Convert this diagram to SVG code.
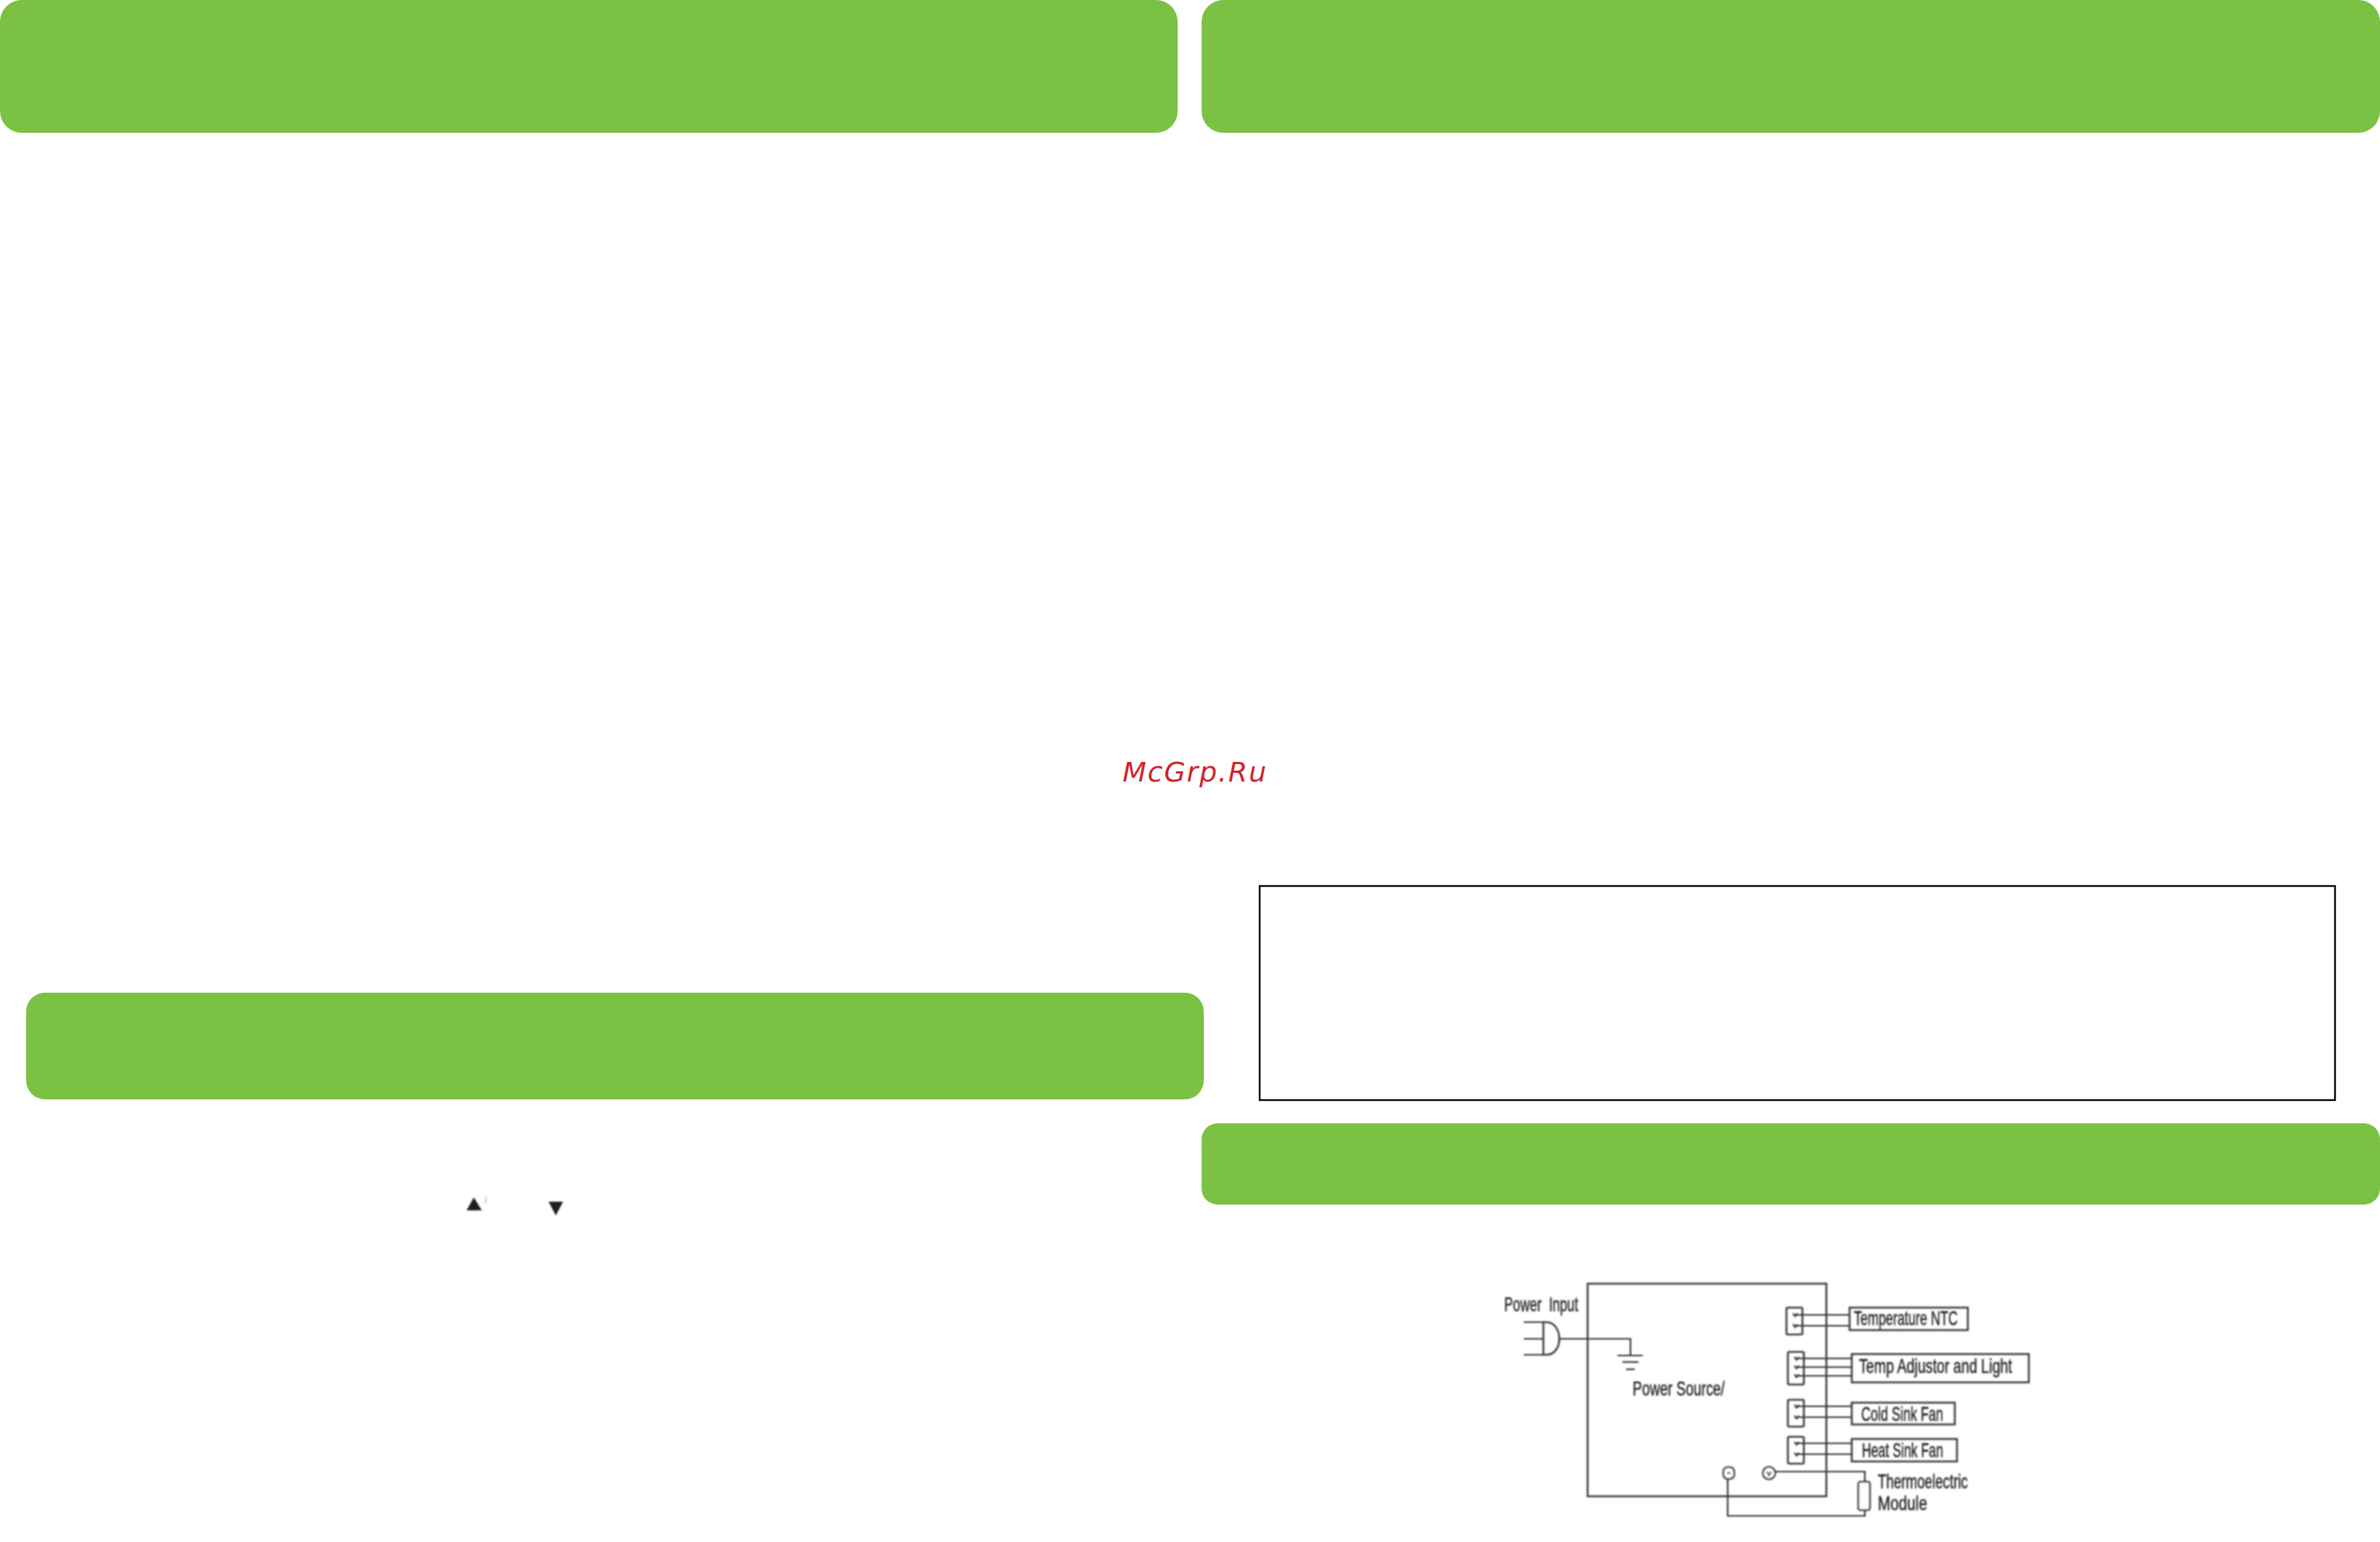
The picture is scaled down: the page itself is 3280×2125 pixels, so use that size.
<svg xmlns="http://www.w3.org/2000/svg" width="3280" height="2125" viewBox="0 0 3280 2125">
<style>
.banner{fill:#7bc143}
.w{fill:none;stroke:#333;stroke-width:2.2}
.b{fill:#fff;stroke:#3a3a3a;stroke-width:2.6}
.p{fill:none;stroke:#3a3a3a;stroke-width:2.6}
.t{font-family:"Liberation Sans",Arial,sans-serif;font-size:28px;fill:#222;stroke:#222;stroke-width:0.5}
.tri{fill:#231f20}
</style>
<defs>
<filter id="soft" x="-5%" y="-5%" width="110%" height="110%"><feGaussianBlur stdDeviation="0.8"/></filter>
<filter id="soft2" x="-50%" y="-50%" width="200%" height="200%"><feGaussianBlur stdDeviation="1"/></filter>
</defs>
<rect width="3280" height="2125" fill="#fff"/>
<g id="banner-top-left"><rect class="banner" x="0" y="0" width="1623" height="183" rx="30"/></g>
<g id="banner-top-right"><rect class="banner" x="1656" y="0" width="1624" height="183" rx="30"/></g>
<g id="banner-mid-left"><rect class="banner" x="36" y="1368" width="1623" height="147" rx="26"/></g>
<g id="banner-bottom-right"><rect class="banner" x="1656" y="1548" width="1624" height="112" rx="22"/></g>
<g id="note-box"><rect x="1736" y="1221" width="1482" height="295" fill="#fff" stroke="#000" stroke-width="2.4"/></g>
<g id="watermark"><text x="1547" y="1077" font-family="DejaVu Sans,sans-serif" font-style="italic" font-size="38" fill="#cf2329" textLength="198" lengthAdjust="spacing">McGrp.Ru</text></g>
<g id="arrow-up" filter="url(#soft2)"><polygon class="tri" points="653,1650 643,1668 664,1668"/><rect x="668" y="1649" width="3" height="9" fill="#ddd"/></g>
<g id="arrow-down" filter="url(#soft2)"><polygon class="tri" points="756,1656 776,1656 766,1675"/></g>
<g id="circuit" filter="url(#soft)">
<g id="connectors">
<path class="w" d="M2100 1822H2127M2100 1845H2127M2100 1867H2127"/>
<path class="w" d="M2149 1845H2247V1868"/>
<path class="w" d="M2229 1868H2264"/>
<path class="w" stroke-width="3" d="M2236 1877H2258"/>
<path class="w" stroke-width="4" d="M2241 1887H2253"/>
<path class="w" d="M2474 1812H2549M2474 1827H2549"/>
<path class="w" d="M2476 1872H2552M2476 1884H2552M2476 1896H2552"/>
<path class="w" d="M2476 1938H2552M2476 1953H2552"/>
<path class="w" d="M2476 1989H2552M2476 2004H2552"/>
<path class="w" d="M2447 2028H2570V2042"/>
<path class="w" d="M2570 2081V2089H2381V2038"/>
</g>
<g id="power-source"><rect class="p" x="2188" y="1769" width="329" height="293"/><text class="t" x="2250" y="1923" textLength="127" lengthAdjust="spacingAndGlyphs">Power Source/</text></g>
<g id="power-input"><path class="p" d="M2127 1822H2131C2143 1822 2149 1834 2149 1845C2149 1856 2143 1867 2131 1867H2127Z"/><text class="t" x="2073" y="1807" word-spacing="8" textLength="102" lengthAdjust="spacingAndGlyphs">Power Input</text></g>
<g id="conn-1"><rect class="p" x="2462" y="1802" width="22" height="37" rx="2"/><path class="w" d="M2471 1810l3 4 3-4M2471 1825l3 4 3-4"/></g>
<g id="conn-2"><rect class="p" x="2464" y="1863" width="22" height="45" rx="2"/><path class="w" d="M2473 1870l3 4 3-4M2473 1882l3 4 3-4M2473 1894l3 4 3-4"/></g>
<g id="conn-3"><rect class="p" x="2464" y="1929" width="22" height="37" rx="2"/><path class="w" d="M2473 1936l3 4 3-4M2473 1951l3 4 3-4"/></g>
<g id="conn-4"><rect class="p" x="2464" y="1980" width="22" height="37" rx="2"/><path class="w" d="M2473 1987l3 4 3-4M2473 2002l3 4 3-4"/></g>
<g id="temperature-ntc"><rect class="p" x="2549" y="1802" width="163" height="31"/><text class="t" x="2555" y="1826" textLength="143" lengthAdjust="spacingAndGlyphs">Temperature NTC</text></g>
<g id="temp-adjustor"><rect class="p" x="2552" y="1866" width="244" height="39"/><text class="t" x="2562" y="1892" textLength="211" lengthAdjust="spacingAndGlyphs">Temp Adjustor and Light</text></g>
<g id="cold-sink-fan"><rect class="p" x="2552" y="1933" width="142" height="30"/><text class="t" x="2565" y="1958" textLength="113" lengthAdjust="spacingAndGlyphs">Cold Sink Fan</text></g>
<g id="heat-sink-fan"><rect class="p" x="2552" y="1983" width="145" height="31"/><text class="t" x="2566" y="2008" textLength="112" lengthAdjust="spacingAndGlyphs">Heat Sink Fan</text></g>
<g id="terminal-minus"><rect class="b" x="2375" y="2022" width="15" height="16" rx="6"/><path class="w" stroke-width="1.2" d="M2380 2030h5"/></g>
<g id="terminal-plus"><circle class="b" cx="2438" cy="2030" r="8.5"/><path class="w" stroke-width="1.4" d="M2435 2028l3 5 3-5"/></g>
<g id="thermoelectric-module"><rect class="b" x="2561" y="2042" width="16" height="39" rx="3"/><text class="t" x="2588" y="2051" textLength="124" lengthAdjust="spacingAndGlyphs">Thermoelectric</text><text class="t" x="2588" y="2081" textLength="68" lengthAdjust="spacingAndGlyphs">Module</text></g>
</g>
</svg>
